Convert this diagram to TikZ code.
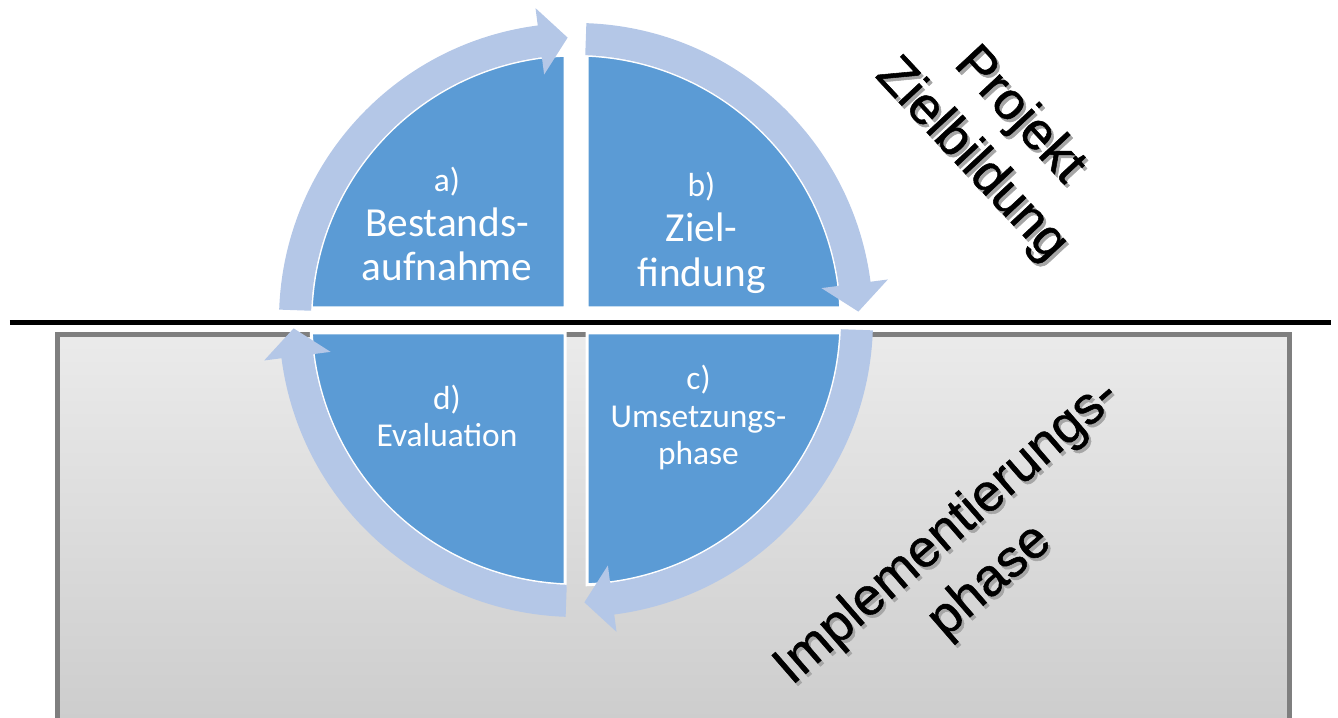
\documentclass[tikz,border=0pt]{standalone}
\usepackage{fontspec}
\setmainfont{Liberation Sans}
\newfontfamily\carlito{Carlito}
\newfontfamily\titelschrift[FakeBold=1]{Liberation Sans}
\usetikzlibrary{
calc,
shadings,
positioning
}
\definecolor{kreisblau}{HTML}{5B9BD5}
\definecolor{pfeilblau}{HTML}{B4C7E7}
\definecolor{rahmengrau}{HTML}{7F7F7F}

\begin{document}
\begin{tikzpicture}
[quadrant/.style ={fill=kreisblau, draw=white, line width=0.06cm},
pfeil/.style ={fill=pfeilblau, draw=none},
text_gross/.style ={text=white, align=center, inner sep=0pt, font=\carlito\fontsize{23.5}{25.5}\selectfont},
text_klein/.style ={text=white, align=center, inner sep=0pt, font=\carlito\fontsize{19}{21.5}\selectfont},
titel/.style ={text=black, align=center, inner sep=0pt, font=\titelschrift\fontsize{30}{37}\selectfont},
titel_schatten/.style ={titel, text=black!35}
]

\useasboundingbox (0,0) rectangle (26.76,14.36);

%%%%%Hintergrund Implementierung%%%%%
\draw [draw=rahmengrau, line width=0.1cm, top color=black!8, bottom color=black!20] (1.15,-0.3) rectangle (25.79,7.67);

%%%%%Trennlinie%%%%%
\coordinate (linie_links) at (0.2,7.91);
\coordinate (linie_rechts) at (26.62,7.91);
\draw [line width=0.1cm] (linie_links) -- (linie_rechts);

%%%%%Kreis%%%%%
\coordinate (mitte) at (11.52,7.96);
\begin{scope}[shift={(mitte)}]
% Quadranten
\path [quadrant] (-0.22,0.24) -- (177.4:5.30) arc [start angle=177.4, end angle=92.38, radius=5.30] -- cycle;
\path [quadrant] (0.22,0.24) -- (87.62:5.30) arc [start angle=87.62, end angle=2.6, radius=5.30] -- cycle;
\path [quadrant] (0.22,-0.26) -- (-2.81:5.30) arc [start angle=-2.81, end angle=-87.62, radius=5.30] -- cycle;
\path [quadrant] (-0.22,-0.26) -- (-92.38:5.30) arc [start angle=-92.38, end angle=-177.19, radius=5.30] -- cycle;

%Pfeile Kreislauf
\foreach \w in {0,90,180,270}
 \path [pfeil, rotate=-\w] (178:5.30) arc [start angle=178, end angle=97.4, radius=5.30] -- (97.4:4.95) -- (91.7:5.65) -- (97.4:6.29) -- (97.4:5.94) arc [start angle=97.4, end angle=178, radius=5.94] -- cycle;
\end{scope}

%Beschriftung Quadranten
\node [text_gross] (txt_a) at (8.94,9.88) {{\fontsize{19}{21.5}\selectfont a)}\\Bestands-\\aufnahme};
\node [text_gross] (txt_b) at (14.03,9.70) {{\fontsize{19}{21.5}\selectfont b)}\\Ziel-\\findung};
\node [text_klein] (txt_c) at (13.97,6.01) {c)\\Umsetzungs-\\phase};
\node [text_klein] (txt_d) at (8.94,6.04) {d)\\Evaluation};

%Phasen (Schatten, Schrift)
\node [titel_schatten, rotate=-47] (schatten_ziel) at ($(19.90,11.60)+(0.05,-0.06)$) {Projekt\\Zielbildung};
\node [titel, rotate=-47] (ziel) at (19.90,11.60) {Projekt\\Zielbildung};
\node [titel_schatten, rotate=41] (schatten_impl) at ($(19.38,3.22)+(0.05,-0.06)$) {Implementierungs-\\phase};
\node [titel, rotate=41] (impl) at (19.38,3.22) {Implementierungs-\\phase};

\end{tikzpicture}
\end{document}
